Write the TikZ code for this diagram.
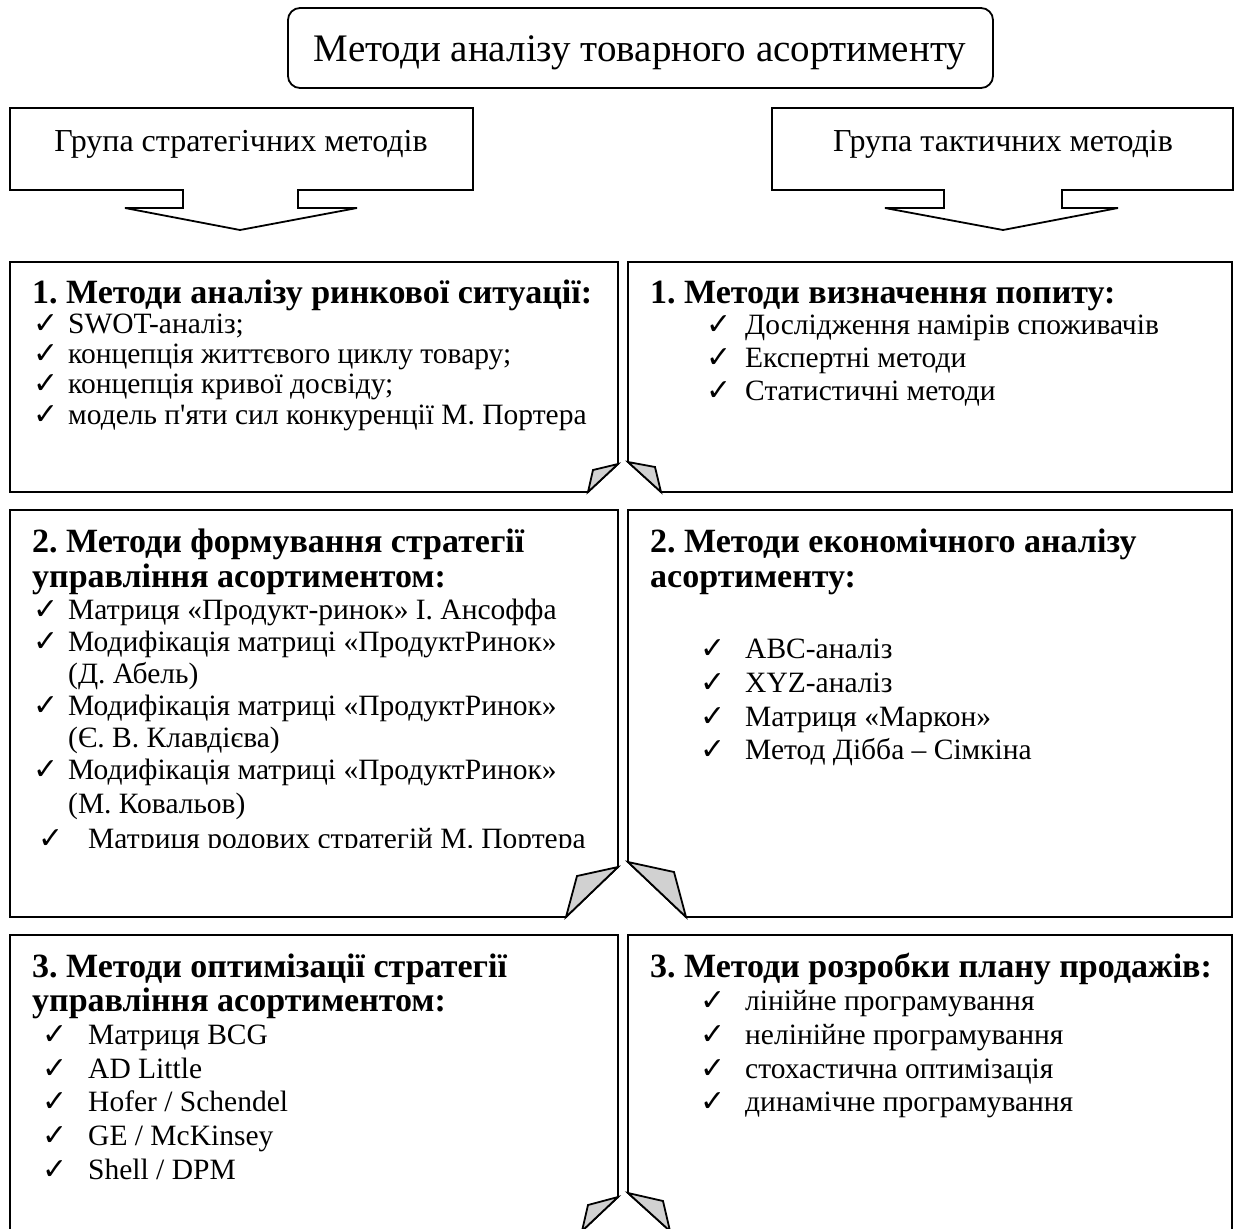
\documentclass[tikz,border=0pt]{standalone}
\usepackage{fontspec}
\setmainfont{Liberation Serif}
\newfontfamily\apfont[Ligatures=TeXOff]{Liberation Serif}
\newfontfamily\symfont{DejaVu Sans}
\frenchspacing

% check mark used in every list
\newcommand\tick{{\symfont\fontsize{30}{30}\selectfont ✓}}
% straight apostrophe
\newcommand\apos{{\apfont'}}
% one list entry: name, check x, text x, baseline y, text
\newcommand\itm[5]{%
  \node[ck] (#1c) at (#2,#4) {\tick};
  \node[it] (#1) at (#3,#4) {#5};}

\definecolor{foldgray}{gray}{0.82}

\tikzset{
  frame/.style={line width=1.8pt, line join=miter},
  fold/.style={frame, fill=foldgray},
  ttl/.style={anchor=base, inner sep=0, font=\fontsize{39}{42}\selectfont},
  grp/.style={anchor=base, inner sep=0, font=\fontsize{32}{36}\selectfont},
  hd/.style={anchor=base west, inner sep=0, font=\fontsize{34}{38}\selectfont\bfseries},
  it/.style={anchor=base west, inner sep=0, font=\fontsize{29.5}{32}\selectfont},
  ck/.style={anchor=base west, inner sep=0},
}

\begin{document}
\begin{tikzpicture}[x=1pt, y=-1pt]
\useasboundingbox (0,0) rectangle (1235,1229);
\clip (0,0) rectangle (1235,1229);

% title
\draw[frame, rounded corners=12pt] (288,8) rectangle (993,88);
\node[ttl] (title) at (640,61) {Методи аналізу товарного асортименту};

% group callouts with arrows
\draw[frame] (10,108) -- (473,108) -- (473,190) -- (298,190) -- (298,208)
  -- (357,208) -- (240,230) -- (125,208) -- (183,208) -- (183,190) -- (10,190) -- cycle;
\node[grp] (gs) at (241,151) {Група стратегічних методів};

\draw[frame] (772,108) -- (1233,108) -- (1233,190) -- (1062,190) -- (1062,208)
  -- (1118,208) -- (1003,230) -- (885,208) -- (944,208) -- (944,190) -- (772,190) -- cycle;
\node[grp] (gt) at (1003,151) {Група тактичних методів};

% row 1
\draw[frame] (10,262) -- (618,262) -- (618,464) -- (588,492) -- (10,492) -- cycle;
\draw[fold] (618,464) -- (593,470) -- (588,492) -- cycle;
\draw[frame] (628,262) -- (1232,262) -- (1232,492) -- (661,492) -- (628,462) -- cycle;
\draw[fold] (628,462) -- (655,467) -- (661,492) -- cycle;

\node[hd] (s1) at (32,303) {1. Методи аналізу ринкової ситуації:};
\itm{s1a}{33}{68}{333}{SWOT-аналіз;}
\itm{s1b}{33}{68}{363}{концепція життєвого циклу товару;}
\itm{s1c}{33}{68}{393}{концепція кривої досвіду;}
\itm{s1d}{33}{68}{424}{модель п\apos яти сил конкуренції М. Портера}

\node[hd] (t1) at (650,303) {1. Методи визначення попиту:};
\itm{t1a}{706}{745}{334}{Дослідження намірів споживачів}
\itm{t1b}{706}{745}{367}{Експертні методи}
\itm{t1c}{706}{745}{400}{Статистичні методи}

% row 2
\draw[frame] (10,510) -- (618,510) -- (618,867) -- (566,917) -- (10,917) -- cycle;
\draw[fold] (618,867) -- (577,876) -- (566,917) -- cycle;
\draw[frame] (628,510) -- (1232,510) -- (1232,917) -- (686,917) -- (628,862) -- cycle;
\draw[fold] (628,862) -- (674,872) -- (686,917) -- cycle;

\node[hd] (s2) at (32,552) {2. Методи формування стратегії};
\node[hd] (s2x) at (32,587) {управління асортиментом:};
\itm{s2a}{33}{68}{619}{Матриця «Продукт-ринок» І. Ансоффа}
\itm{s2b}{33}{68}{651}{Модифікація матриці «ПродуктРинок»}
\node[it] (s2bx) at (68,683) {(Д. Абель)};
\itm{s2c}{33}{68}{715}{Модифікація матриці «ПродуктРинок»}
\node[it] (s2cx) at (68,747) {(Є. В. Клавдієва)};
\itm{s2d}{33}{68}{779}{Модифікація матриці «ПродуктРинок»}
\node[it] (s2dx) at (68,813) {(М. Ковальов)};
\begin{scope}
  \clip (10,800) rectangle (618,847);
  \itm{s2e}{38}{88}{848}{Матриця родових стратегій М. Портера}
\end{scope}

\node[hd] (t2) at (650,552) {2. Методи економічного аналізу};
\node[hd] (t2x) at (650,587) {асортименту:};
\itm{t2a}{700}{745}{658}{ABC-аналіз}
\itm{t2b}{700}{745}{692}{XYZ-аналіз}
\itm{t2c}{700}{745}{726}{Матриця «Маркон»}
\itm{t2d}{700}{745}{759}{Метод Дібба – Сімкіна}

% row 3
\draw[frame] (10,935) -- (618,935) -- (618,1197) -- (582,1231) -- (10,1231) -- cycle;
\draw[fold] (618,1197) -- (588,1205) -- (582,1231) -- cycle;
\draw[frame] (628,935) -- (1232,935) -- (1232,1231) -- (670,1231) -- (628,1193) -- cycle;
\draw[fold] (628,1193) -- (663,1201) -- (670,1231) -- cycle;

\node[hd] (s3) at (32,977) {3. Методи оптимізації стратегії};
\node[hd] (s3x) at (32,1011) {управління асортиментом:};
\itm{s3a}{42}{88}{1044}{Матриця BCG}
\itm{s3b}{42}{88}{1078}{AD Little}
\itm{s3c}{42}{88}{1111}{Hofer / Schendel}
\itm{s3d}{42}{88}{1145}{GE / McKinsey}
\itm{s3e}{42}{88}{1179}{Shell / DPM}

\node[hd] (t3) at (650,977) {3. Методи розробки плану продажів:};
\itm{t3a}{700}{745}{1010}{лінійне програмування}
\itm{t3b}{700}{745}{1044}{нелінійне програмування}
\itm{t3c}{700}{745}{1078}{стохастична оптимізація}
\itm{t3d}{700}{745}{1111}{динамічне програмування}
\end{tikzpicture}
\end{document}
